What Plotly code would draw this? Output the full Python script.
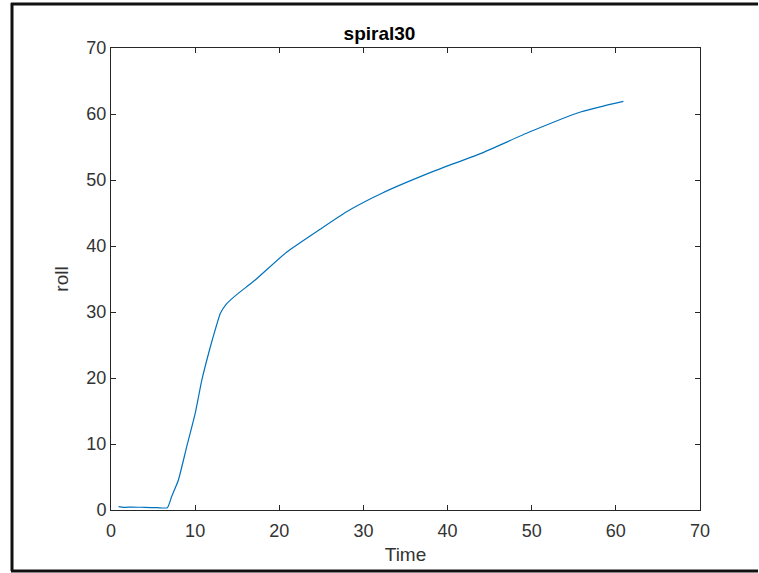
import plotly.graph_objects as go

time_vals = [0.9, 1.5, 2.5, 4.0, 5.5, 6.7, 7.2, 8.0, 9.0, 10.0, 10.8, 11.8, 12.5, 13.0,
             13.7, 14.9, 17.1, 20.9, 24.8, 28.0, 32.2, 38.3, 43.9, 49.8, 55.8, 58.5, 60.9]
roll_vals = [0.5, 0.4, 0.45, 0.4, 0.35, 0.35, 2.0, 4.5, 9.6, 14.6, 19.7, 24.7, 27.8, 29.8,
             31.2, 32.6, 34.8, 39.1, 42.5, 45.2, 48.0, 51.3, 54.0, 57.3, 60.3, 61.2, 61.9]
tick_vals = [0, 10, 20, 30, 40, 50, 60, 70]

W, H = 759, 573
L, R, T, B = 111, 59, 48, 63
pw, ph = W - L - R, H - T - B

def px(x):
    return (x - L) / pw

def py(y):
    return (H - B - y) / ph

FONT = "Liberation Sans, Arial"
TXT = "#333333"

fig = go.Figure()
fig.add_trace(go.Scatter(x=time_vals, y=roll_vals, mode="lines",
                         line=dict(color="#0072BD", width=1.2, shape="spline", smoothing=0.5),
                         showlegend=False))

axis_common = dict(
    range=[0, 70], tickvals=tick_vals, ticks="inside", ticklen=5, tickwidth=1,
    tickcolor="#262626", showline=True, linecolor="#262626", linewidth=1,
    mirror="ticks", showgrid=False, zeroline=False, automargin=False,
    tickfont=dict(family=FONT, size=18, color=TXT),
)
fig.update_xaxes(**axis_common, ticklabelstandoff=4,
                 title=dict(text="Time", standoff=8,
                            font=dict(family=FONT, size=19, color=TXT)))
fig.update_yaxes(**axis_common,
                 title=dict(text="roll", standoff=12,
                            font=dict(family=FONT, size=19, color=TXT)))

fig.update_layout(
    width=W, height=H,
    margin=dict(l=L, r=R, t=T, b=B, autoexpand=False),
    paper_bgcolor="white", plot_bgcolor="white",
    title=dict(text="<b>spiral30</b>", x=px(405.5), xanchor="center",
               y=1 - 33 / H, yanchor="middle", yref="container",
               font=dict(family=FONT, size=19, color="black")),
    shapes=[
        dict(type="line", xref="paper", yref="paper", x0=px(12), x1=px(12), y0=py(3), y1=py(571),
             line=dict(color="#111111", width=3)),
        dict(type="line", xref="paper", yref="paper", x0=px(11), x1=px(758), y0=py(4), y1=py(4),
             line=dict(color="#111111", width=3)),
        dict(type="line", xref="paper", yref="paper", x0=px(11), x1=px(758), y0=py(571), y1=py(571),
             line=dict(color="#111111", width=3)),
    ],
)

fig.write_html("out.html")
